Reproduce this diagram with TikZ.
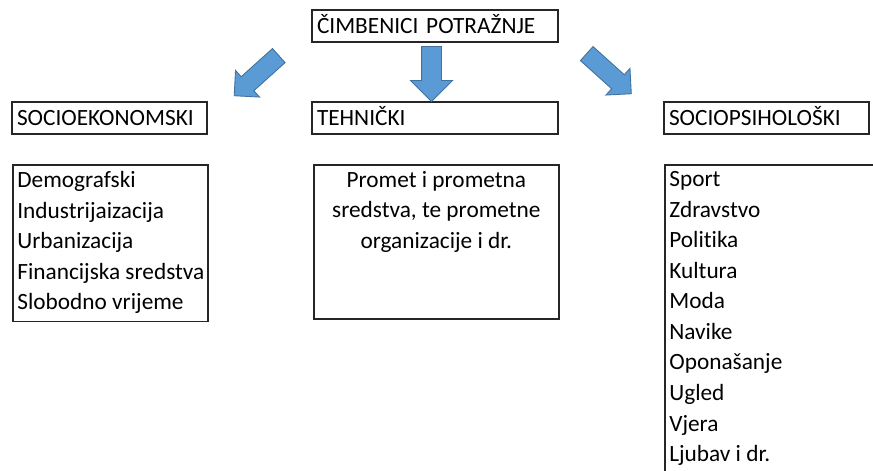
\documentclass[tikz,border=0pt]{standalone}
\usepackage{fontspec}
\setmainfont{Carlito}[Ligatures=NoCommon]
\usetikzlibrary{shapes.arrows}
\definecolor{plava}{HTML}{5B9BD5}
\definecolor{plavarub}{HTML}{41719C}

\begin{document}
\begin{tikzpicture}[
	font=\fontsize{13.26pt}{17.4pt}\selectfont,
	okvir/.style={draw=black!85,line width=0.95pt,inner sep=0pt},
	naslov/.style={okvir,minimum height=0.64cm,text height=0.9em,text depth=0.1em,inner xsep=0.1cm,align=left},
	popis/.style={inner sep=0pt},
	strelica/.style={single arrow,draw=plavarub,fill=plava,line width=0.5pt,inner xsep=0pt,inner ysep=0.18cm,single arrow head extend=0.17cm,minimum width=0.7cm,minimum height=1.2cm}
]
	\useasboundingbox (0,0) rectangle (17.46,9.4);
	\clip (0,0) rectangle (17.46,9.4);

	% naslovi
	\node[naslov,text width=4.72cm](cp) at (8.7,8.88) {ČIMBENICI POTRAŽNJE};
	\node[naslov,text width=3.7cm](se) at (2.19,7.04) {SOCIOEKONOMSKI};
	\node[naslov,text width=4.72cm](te) at (8.7,7.04) {TEHNIČKI};
	\node[naslov,text width=3.9cm](sp) at (15.33,7.04) {SOCIOPSIHOLOŠKI};

	% strelice
	\node[strelica,rotate=222](sl) at (5.2,7.95) {};
	\node[strelica,inner ysep=0.19cm,minimum width=0.82cm,minimum height=1.1cm,single arrow head extend=0.22cm,rotate=-90](ss) at (8.63,8.02) {};
	\node[strelica,rotate=-42](sd) at (12.11,7.99) {};

	% okviri popisa
	\node[okvir,minimum width=3.9cm,minimum height=3.13cm,anchor=north west](sel) at (0.24,6.12) {};
	\node[okvir,minimum width=4.9cm,minimum height=3.08cm,anchor=north west](tel) at (6.26,6.12) {};
	\node[okvir,minimum width=5cm,minimum height=7cm,anchor=north west](spl) at (13.28,6.12) {};

	\node[popis,align=left,anchor=north west](selt) at ([shift={(0.1,-0.14)}]sel.north west) {Demografski\\Industrijaizacija\\Urbanizacija\\Financijska sredstva\\Slobodno vrijeme};
	\node[popis,align=center,anchor=north](telt) at ([yshift=-0.14cm]tel.north) {Promet i prometna\\sredstva, te prometne\\organizacije i dr.};
	\node[popis,align=left,anchor=north west](splt) at ([shift={(0.1,-0.14)}]spl.north west) {Sport\\Zdravstvo\\Politika\\Kultura\\Moda\\Navike\\Oponašanje\\Ugled\\Vjera\\Ljubav i dr.};
\end{tikzpicture}
\end{document}
